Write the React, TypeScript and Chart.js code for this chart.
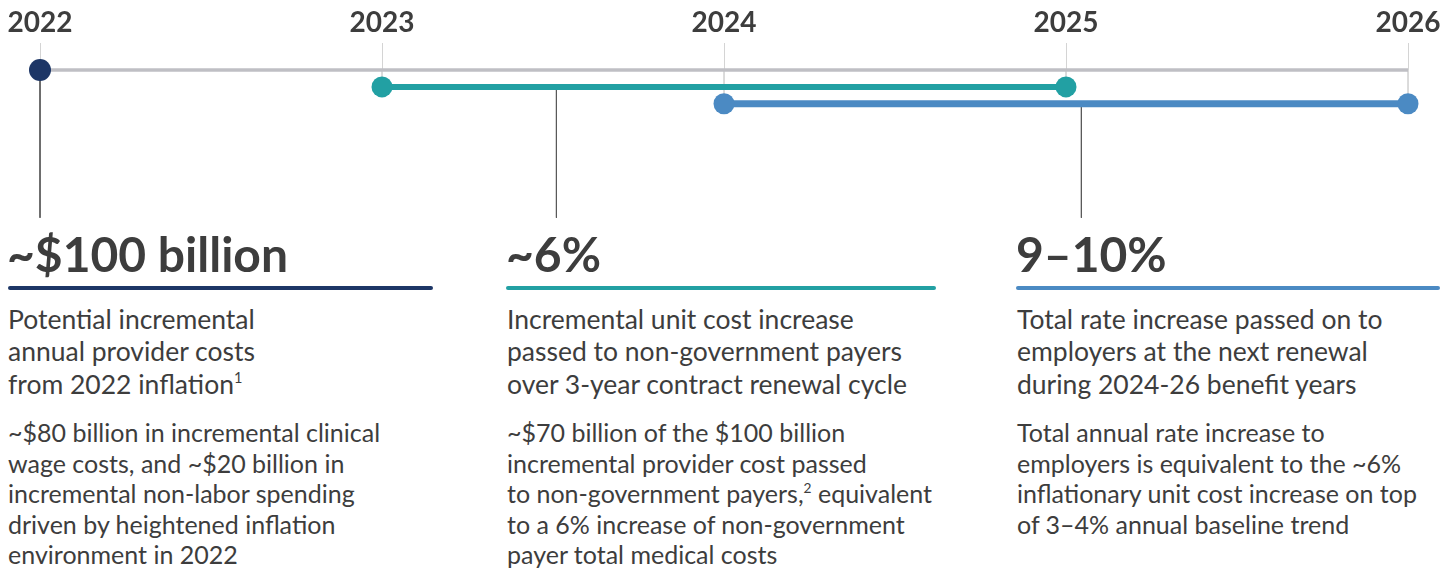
import React, { useEffect, useRef } from "react";
import { Chart, registerables } from "chart.js";

Chart.register(...registerables);

// ---- data ----
const years = [2022, 2023, 2024, 2025, 2026];
const tickLabels = ["2022", "2023", "2024", "2025", "2026"];
// lanes: 0 = baseline track, 1 = unit-cost track, 2 = rate track
const guideLanes = [0, 1, 2, 1, 2];
const baselineSpan = [2022, 2026];
const inflationYear = [2022];
const unitCostSpan = [2023, 2025];
const rateSpan = [2024, 2026];
const connectorX = [2022, 2023.51, 2025.045];
const connectorLane = [0, 1, 2];
const connectorEnd = 8.75;

const headlines = ["~$100 billion", "~6%", "9–10%"];
const leadLines = [
  ["Potential incremental", "annual provider costs", "from 2022 inflation|1"],
  ["Incremental unit cost increase", "passed to non-government payers", "over 3-year contract renewal cycle"],
  ["Total rate increase passed on to", "employers at the next renewal", "during 2024-26 benefit years"],
];
const detailLines = [
  [
    "~$80 billion in incremental clinical",
    "wage costs, and ~$20 billion in",
    "incremental non-labor spending",
    "driven by heightened inflation",
    "environment in 2022",
  ],
  [
    "~$70 billion of the $100 billion",
    "incremental provider cost passed",
    "to non-government payers,|2| equivalent",
    "to a 6% increase of non-government",
    "payer total medical costs",
  ],
  [
    "Total annual rate increase to",
    "employers is equivalent to the ~6%",
    "inflationary unit cost increase on top",
    "of 3–4% annual baseline trend",
  ],
];

const NAVY = "#1d3666";
const TEAL = "#22a0a3";
const BLUE = "#4b8ac3";
const GRAY = "#bfbfc4";
const TEXT = "#3d3d3d";

const colLeft = [8, 507, 1017];
const ruleSpan = [
  [8, 433],
  [506, 936],
  [1016, 1440],
];
const ruleColor = [NAVY, TEAL, BLUE];

function renderLine(line: string) {
  const parts = line.split("|");
  return parts.map((p, i) =>
    i % 2 === 1 ? (
      <sup key={i} style={{ fontSize: "0.55em", lineHeight: 0, verticalAlign: "0.75em" }}>
        {p}
      </sup>
    ) : (
      <React.Fragment key={i}>{p}</React.Fragment>
    )
  );
}

export default function App() {
  const ref = useRef<HTMLCanvasElement | null>(null);

  useEffect(() => {
    if (!ref.current) return;
    const guideData: any[] = [];
    years.forEach((yr, i) => {
      guideData.push({ x: yr, y: 0 }, { x: yr, y: guideLanes[i] }, { x: yr, y: null });
    });
    const connectorData: any[] = [];
    connectorX.forEach((cx, i) => {
      connectorData.push({ x: cx, y: connectorLane[i] }, { x: cx, y: connectorEnd }, { x: cx, y: null });
    });

    const chart = new Chart(ref.current, {
      type: "line",
      data: {
        datasets: [
          {
            label: "guides",
            data: guideData,
            borderColor: "#d6d6d6",
            borderWidth: 1,
            pointRadius: 0,
            spanGaps: false,
            clip: false as any,
            order: 6,
          },
          {
            label: "connectors",
            data: connectorData,
            borderColor: "#5a5a5a",
            borderWidth: 1,
            pointRadius: 0,
            spanGaps: false,
            clip: false as any,
            order: 5,
          },
          {
            label: "baseline",
            data: baselineSpan.map((x) => ({ x, y: 0 })),
            borderColor: GRAY,
            borderWidth: 3.5,
            pointRadius: 0,
            clip: false as any,
            order: 4,
          },
          {
            label: "inflation",
            data: inflationYear.map((x) => ({ x, y: 0 })),
            borderColor: NAVY,
            backgroundColor: NAVY,
            pointRadius: 11,
            pointBorderWidth: 0,
            pointBackgroundColor: NAVY,
            showLine: false,
            clip: false as any,
            order: 1,
          },
          {
            label: "unit cost",
            data: unitCostSpan.map((x) => ({ x, y: 1 })),
            borderColor: TEAL,
            borderWidth: 6,
            pointRadius: 10.5,
            pointBorderWidth: 0,
            pointBackgroundColor: TEAL,
            clip: false as any,
            order: 2,
          },
          {
            label: "rate",
            data: rateSpan.map((x) => ({ x, y: 2 })),
            borderColor: BLUE,
            borderWidth: 7,
            pointRadius: 10.5,
            pointBorderWidth: 0,
            pointBackgroundColor: BLUE,
            clip: false as any,
            order: 3,
          },
        ],
      },
      options: {
        animation: false,
        responsive: true,
        maintainAspectRatio: false,
        events: [],
        layout: { padding: { left: 40, right: 47, top: 0, bottom: 0 } },
        plugins: { legend: { display: false }, tooltip: { enabled: false } },
        scales: {
          x: {
            type: "linear",
            position: "top",
            min: years[0],
            max: years[years.length - 1],
            ticks: {
              stepSize: 1,
              autoSkip: false,
              maxRotation: 0,
              padding: 3,
              color: TEXT,
              font: { family: "Lato", size: 28, weight: "bold" },
              callback: (_v: any, i: number) => tickLabels[i],
            },
            grid: { drawOnChartArea: false, tickLength: 27, color: "#d4d4d4", lineWidth: 1 },
            border: { display: false },
            afterFit: (s: any) => {
              s.height = 70;
            },
          } as any,
          y: { type: "linear", min: 0, max: 9, reverse: true, display: false },
        },
      },
    });
    return () => chart.destroy();
  }, []);

  return (
    <div style={{ position: "absolute", left: 0, top: 0, width: 1455, height: 568, overflow: "hidden", background: "#fff" }}>
      <div style={{ position: "absolute", left: 0, top: 0, width: 1455, height: 233 }}>
        <canvas ref={ref} />
      </div>
      {headlines.map((h, i) => (
        <div
          key={"h" + i}
          style={{
            position: "absolute",
            left: colLeft[i] - 1,
            top: 224.6,
            fontFamily: "Lato",
            fontWeight: 700,
            fontSize: 48,
            lineHeight: "57.6px",
            color: TEXT,
            whiteSpace: "nowrap",
          }}
        >
          {h}
        </div>
      ))}
      {ruleSpan.map((r, i) => (
        <div
          key={"r" + i}
          style={{
            position: "absolute",
            left: r[0],
            top: 286,
            width: r[1] - r[0],
            height: 4,
            borderRadius: 2,
            background: ruleColor[i],
          }}
        />
      ))}
      {leadLines.map((lines, i) => (
        <div
          key={"l" + i}
          style={{
            position: "absolute",
            left: colLeft[i],
            top: 302.5,
            fontFamily: "Lato",
            fontSize: 26.5,
            lineHeight: "32.5px",
            color: TEXT,
            whiteSpace: "nowrap",
          }}
        >
          {lines.map((ln, j) => (
            <div key={j}>{renderLine(ln)}</div>
          ))}
        </div>
      ))}
      {detailLines.map((lines, i) => (
        <div
          key={"d" + i}
          style={{
            position: "absolute",
            left: colLeft[i],
            top: 417,
            fontFamily: "Lato",
            fontSize: 25,
            lineHeight: "30.5px",
            color: TEXT,
            whiteSpace: "nowrap",
          }}
        >
          {lines.map((ln, j) => (
            <div key={j}>{renderLine(ln)}</div>
          ))}
        </div>
      ))}
    </div>
  );
}
